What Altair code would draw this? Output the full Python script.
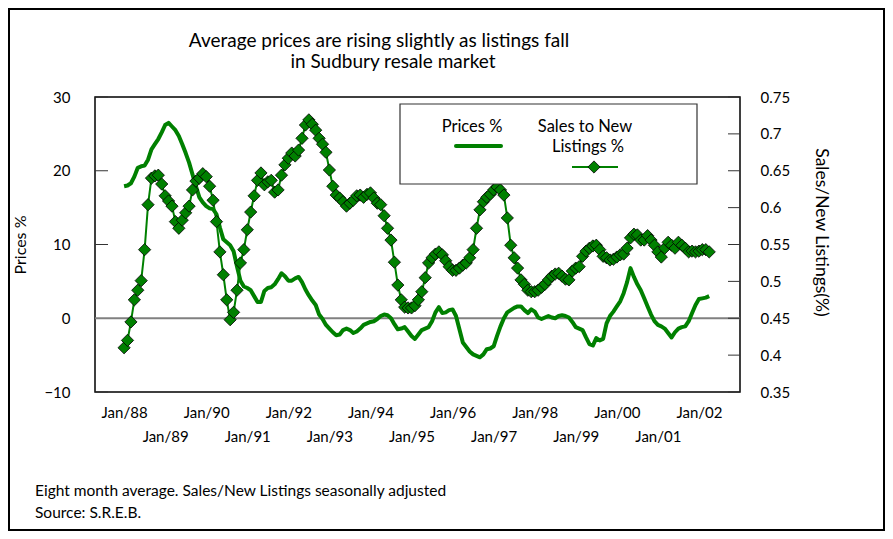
import altair as alt
import pandas as pd

# Monthly data, Jan 1988 .. Apr 2002 (eight month averages)
prices = [
    17.9, 18.0, 18.3, 19.2, 20.4, 20.6, 20.7, 21.5, 22.9, 23.6,
    24.3, 25.2, 26.2, 26.5, 26.0, 25.5, 24.7, 23.6, 22.4, 21.1,
    19.5, 17.9, 16.4, 15.7, 15.2, 14.9, 14.8, 14.1, 12.3, 10.7,
    10.3, 9.9, 9.1, 7.0, 5.1, 4.3, 4.1, 3.8, 3.0, 2.2,
    2.2, 3.7, 4.1, 4.2, 4.6, 5.3, 6.1, 5.7, 5.1, 5.1,
    5.4, 5.6, 4.9, 3.9, 3.1, 2.4, 1.8, 0.5, -0.1, -0.9,
    -1.4, -1.9, -2.3, -2.2, -1.6, -1.4, -1.6, -2.0, -1.8, -1.4,
    -0.9, -0.7, -0.5, -0.4, -0.1, 0.3, 0.5, 0.4, 0.0, -0.8,
    -1.5, -1.4, -1.2, -1.8, -2.4, -2.8, -2.2, -1.6, -1.4, -1.2,
    -0.4, 0.8, 1.5, 0.7, 0.8, 1.1, 1.2, 0.3, -1.5, -3.3,
    -3.9, -4.5, -4.9, -5.1, -5.3, -4.9, -4.2, -4.1, -3.8, -2.4,
    -1.1, 0.0, 0.8, 1.1, 1.4, 1.6, 1.6, 1.1, 0.7, 1.2,
    0.9, 0.1, -0.1, 0.1, 0.3, 0.1, 0.0, 0.3, 0.4, 0.3,
    0.1, -0.5, -1.2, -1.4, -1.6, -2.6, -3.5, -3.7, -2.7, -3.0,
    -2.8, -0.7, 0.3, 0.9, 1.6, 2.3, 3.4, 4.9, 6.8, 5.6,
    4.6, 3.8, 2.7, 1.6, 0.5, -0.4, -0.9, -1.1, -1.4, -2.0,
    -2.6, -1.9, -1.4, -1.2, -1.1, -0.4, 0.7, 1.8, 2.6, 2.7,
    2.8, 3.0,
]

sales_to_new = [
    0.410, 0.420, 0.445, 0.475, 0.488, 0.501, 0.543, 0.604, 0.640, 0.643,
    0.644, 0.632, 0.616, 0.609, 0.602, 0.581, 0.572, 0.583, 0.593, 0.602,
    0.624, 0.636, 0.640, 0.646, 0.642, 0.629, 0.610, 0.581, 0.540, 0.509,
    0.475, 0.448, 0.458, 0.488, 0.525, 0.543, 0.570, 0.594, 0.616, 0.637,
    0.647, 0.631, 0.635, 0.637, 0.621, 0.624, 0.644, 0.658, 0.667, 0.674,
    0.670, 0.678, 0.694, 0.712, 0.719, 0.713, 0.705, 0.694, 0.686, 0.675,
    0.651, 0.629, 0.617, 0.613, 0.608, 0.602, 0.606, 0.610, 0.616, 0.617,
    0.614, 0.618, 0.620, 0.613, 0.606, 0.604, 0.589, 0.572, 0.556, 0.526,
    0.495, 0.475, 0.465, 0.464, 0.464, 0.467, 0.475, 0.486, 0.505, 0.525,
    0.532, 0.537, 0.540, 0.536, 0.528, 0.520, 0.515, 0.515, 0.518, 0.522,
    0.525, 0.532, 0.543, 0.572, 0.597, 0.608, 0.614, 0.618, 0.624, 0.628,
    0.624, 0.617, 0.586, 0.549, 0.532, 0.518, 0.502, 0.496, 0.488, 0.486,
    0.486, 0.488, 0.492, 0.496, 0.502, 0.507, 0.510, 0.511, 0.507, 0.503,
    0.502, 0.514, 0.518, 0.520, 0.534, 0.541, 0.545, 0.548, 0.549, 0.543,
    0.534, 0.532, 0.529, 0.530, 0.533, 0.536, 0.537, 0.545, 0.559, 0.564,
    0.563, 0.556, 0.556, 0.562, 0.556, 0.549, 0.540, 0.533, 0.545, 0.553,
    0.549, 0.545, 0.553, 0.549, 0.545, 0.540, 0.541, 0.540, 0.541, 0.543,
    0.543, 0.540,
]

tick_labels = ["Jan/88", "Jan/89", "Jan/90", "Jan/91", "Jan/92", "Jan/93", "Jan/94",
               "Jan/95", "Jan/96", "Jan/97", "Jan/98", "Jan/99", "Jan/00", "Jan/01", "Jan/02"]
left_ticks = [-10, 0, 10, 20, 30]
right_ticks = [0.35, 0.4, 0.45, 0.5, 0.55, 0.6, 0.65, 0.7, 0.75]

title_lines = ["Average prices are rising slightly  as listings fall", "in Sudbury resale market"]
notes = ["Eight month average. Sales/New Listings seasonally adjusted", "Source: S.R.E.B."]

FONT = "Lato"
GREEN = "#008000"
W, H = 645, 295

months = list(range(len(prices)))
df = pd.DataFrame({"m": months, "price": prices, "ratio": sales_to_new})

lab_arr = "[" + ",".join("'%s'" % t for t in tick_labels) + "]"
label_expr = ("(datum.value/12) % 2 == 0 ? {a}[datum.value/12] : ['', {a}[datum.value/12]]").format(a=lab_arr)

xscale = alt.Scale(domain=[-8.5, 180], nice=False, zero=False)
xaxis = alt.Axis(values=[i * 12 for i in range(len(tick_labels))], labelExpr=label_expr,
                 ticks=False, domain=False, grid=False, labelPadding=13, labelLineHeight=24,
                 labelFontSize=15, labelOverlap=False, title=None, labelFont=FONT,
                 labelColor="black", labelBaseline="top")

lscale = alt.Scale(domain=[-10, 30], nice=False, zero=False)
rscale = alt.Scale(domain=[0.35, 0.75], nice=False, zero=False)

laxis = alt.Axis(values=left_ticks, orient="left", ticks=False, domain=False, grid=False,
                 labelPadding=25, labelFontSize=15, labelFont=FONT, labelColor="black",
                 title="Prices %", titleX=-75, titleY=H / 2, titleAngle=270,
                 titleAlign="center", titleBaseline="middle", titleFont=FONT,
                 titleFontSize=16, titleFontWeight="normal", titleColor="black")
raxis = alt.Axis(values=right_ticks, orient="right", ticks=False, domain=False, grid=False,
                 labelPadding=20, labelFontSize=15, labelFont=FONT, labelColor="black",
                 labelExpr="format(datum.value, '.2f') == '0.40' ? '0.4' : format(datum.value, '.2f') == '0.50' ? '0.5' : format(datum.value, '.2f') == '0.60' ? '0.6' : format(datum.value, '.2f') == '0.70' ? '0.7' : format(datum.value, '.2f')",
                 title="Sales/New Listings(%)", titleX=80, titleY=135, titleAngle=90,
                 titleAlign="center", titleBaseline="middle", titleFont=FONT,
                 titleFontSize=17.5, titleFontWeight="normal", titleColor="black")

price_line = alt.Chart(df).mark_line(color=GREEN, strokeWidth=4, strokeJoin="round").encode(
    x=alt.X("m:Q", scale=xscale, axis=xaxis),
    y=alt.Y("price:Q", scale=lscale, axis=laxis),
)
zero_line = alt.Chart(pd.DataFrame({"price": [0]})).mark_rule(color="#808080", strokeWidth=2).encode(
    y=alt.Y("price:Q", scale=lscale, axis=laxis)
)
lticks = alt.Chart(pd.DataFrame({"price": [t for t in left_ticks if t != 0]})).mark_rule(
    color="#333333", strokeWidth=1).encode(
    y=alt.Y("price:Q", scale=lscale, axis=laxis), x=alt.value(0), x2=alt.value(13)
)
left = alt.layer(zero_line, lticks, price_line)

ratio_line = alt.Chart(df).mark_line(color=GREEN, strokeWidth=2).encode(
    x=alt.X("m:Q", scale=xscale, axis=xaxis),
    y=alt.Y("ratio:Q", scale=rscale, axis=raxis),
)
ratio_pts = alt.Chart(df).mark_point(shape="diamond", filled=True, fill=GREEN, stroke="black",
                                     strokeWidth=0.8, size=150, opacity=1).encode(
    x=alt.X("m:Q", scale=xscale, axis=xaxis),
    y=alt.Y("ratio:Q", scale=rscale, axis=raxis),
)
rticks = alt.Chart(pd.DataFrame({"ratio": right_ticks})).mark_rule(color="#333333", strokeWidth=1).encode(
    y=alt.Y("ratio:Q", scale=rscale, axis=raxis), x=alt.value(W - 12), x2=alt.value(W)
)
right = alt.layer(rticks, ratio_line, ratio_pts)

one = pd.DataFrame({"a": [0]})

def txt(s, x, y, size=15, align="center"):
    return alt.Chart(one).mark_text(text=s, font=FONT, fontSize=size, align=align,
                                    baseline="middle", color="black").encode(
        x=alt.value(x), y=alt.value(y))

legend_box = alt.Chart(one).mark_rect(fill="white", stroke="#333333", strokeWidth=1.2).encode(
    x=alt.value(305), x2=alt.value(602), y=alt.value(7), y2=alt.value(87))
leg_line1 = alt.Chart(one).mark_rule(color=GREEN, strokeWidth=4, strokeCap="round").encode(
    x=alt.value(361), x2=alt.value(406), y=alt.value(49))
leg_line2 = alt.Chart(one).mark_rule(color=GREEN, strokeWidth=2).encode(
    x=alt.value(477), x2=alt.value(523), y=alt.value(70))
leg_pt = alt.Chart(one).mark_point(shape="diamond", filled=True, fill=GREEN, stroke="black",
                                   strokeWidth=0.8, size=150, opacity=1).encode(
    x=alt.value(499), y=alt.value(70))

outer = alt.Chart(one).mark_rect(fillOpacity=0, stroke="black", strokeWidth=2).encode(
    x=alt.value(-86), x2=alt.value(W + 144), y=alt.value(-88), y2=alt.value(H + 138))

decor = [
    legend_box, leg_line1, leg_line2, leg_pt,
    txt("Prices %", 377, 30, size=16.5), txt("Sales to New", 490, 30, size=16.5),
    txt("Listings %", 493, 50, size=16.5),
    txt(title_lines[0], 284, -56, size=19), txt(title_lines[1], 298, -35, size=19),
    txt(notes[0], -60, 394, size=15.5, align="left"), txt(notes[1], -60, 416, size=15.5, align="left"),
    outer,
]

chart = alt.layer(left, right, *decor).resolve_scale(y="independent").properties(
    width=W, height=H,
    autosize=alt.AutoSizeParams(type="none"),
    padding={"left": 87, "top": 89, "right": 145, "bottom": 139},
    background="white",
).configure_view(stroke="black", strokeWidth=1.5)

chart.save("out.html", embed_options={"renderer": "svg", "actions": False})
